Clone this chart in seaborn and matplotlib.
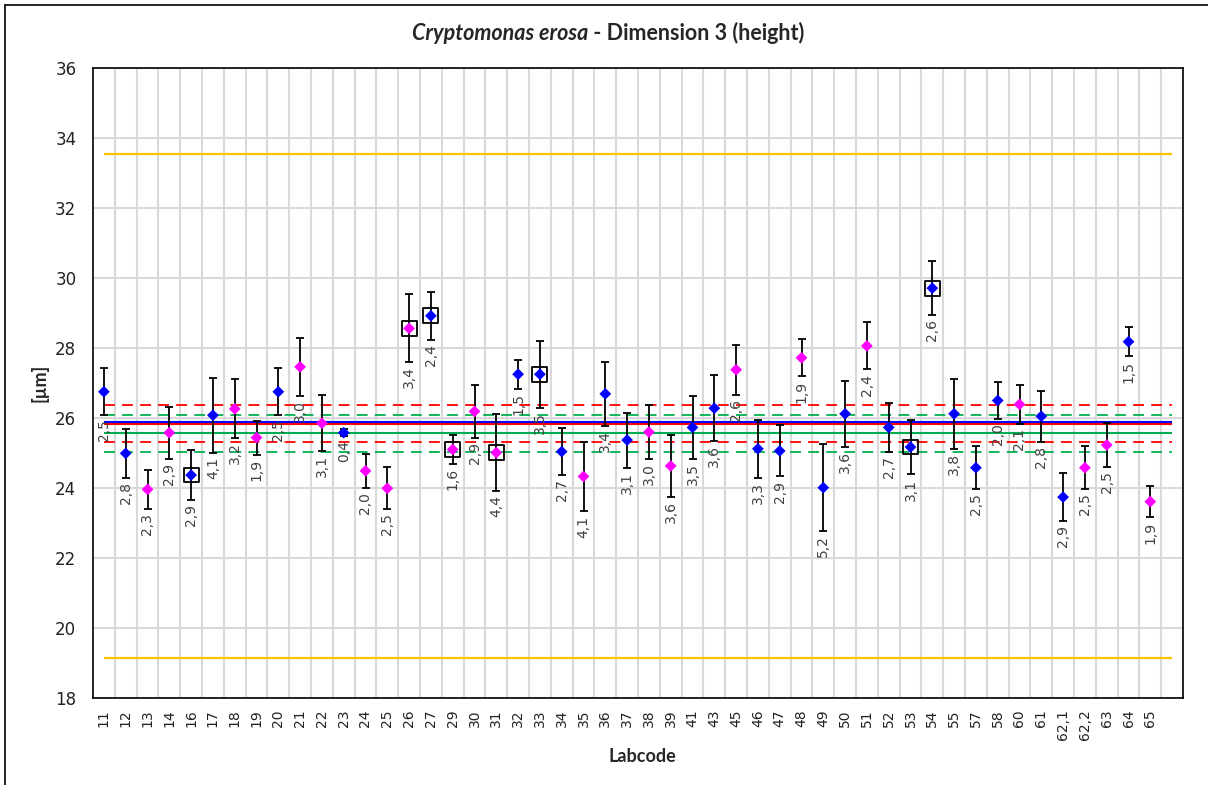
import numpy as np
import pandas as pd
import seaborn as sns
import matplotlib.pyplot as plt
from matplotlib.lines import Line2D

# ---- data ----
labcodes = ['11', '12', '13', '14', '16', '17', '18', '19', '20', '21',
            '22', '23', '24', '25', '26', '27', '29', '30', '31', '32',
            '33', '34', '35', '36', '37', '38', '39', '41', '43', '45',
            '46', '47', '48', '49', '50', '51', '52', '53', '54', '55',
            '57', '58', '60', '61', '62,1', '62,2', '63', '64', '65']
means = [26.75, 24.99, 23.96, 25.58, 24.37, 26.08, 26.26, 25.44, 26.75, 27.46,
         25.85, 25.58, 24.49, 23.99, 28.56, 28.92, 25.10, 26.19, 25.01, 27.25,
         27.25, 25.04, 24.33, 26.69, 25.37, 25.60, 24.63, 25.73, 26.28, 27.38,
         25.12, 25.06, 27.72, 24.01, 26.12, 28.06, 25.73, 25.17, 29.71, 26.12,
         24.58, 26.50, 26.39, 26.05, 23.74, 24.58, 25.23, 28.18, 23.61]
cv = [2.5, 2.8, 2.3, 2.9, 2.9, 4.1, 3.2, 1.9, 2.5, 3.0,
      3.1, 0.4, 2.0, 2.5, 3.4, 2.4, 1.6, 2.9, 4.4, 1.5,
      3.5, 2.7, 4.1, 3.4, 3.1, 3.0, 3.6, 3.5, 3.6, 2.6,
      3.3, 2.9, 1.9, 5.2, 3.6, 2.4, 2.7, 3.1, 2.6, 3.8,
      2.5, 2.0, 2.1, 2.8, 2.9, 2.5, 2.5, 1.5, 1.9]
groups = ['A', 'A', 'B', 'B', 'A', 'A', 'B', 'B', 'A', 'B',
          'B', 'A', 'B', 'B', 'B', 'A', 'B', 'B', 'B', 'A',
          'A', 'A', 'B', 'A', 'A', 'B', 'B', 'A', 'A', 'B',
          'A', 'A', 'B', 'A', 'A', 'B', 'A', 'A', 'A', 'A',
          'A', 'A', 'B', 'A', 'A', 'B', 'B', 'A', 'B']
flagged = ['16', '26', '27', '29', '31', '33', '53', '54']

# reference lines
mean_blue = 25.88
mean_red = 25.83
mean_green = 25.56
red_band = [26.38, 25.31]
green_band = [26.10, 25.02]
orange_limits = [33.54, 19.14]

df = pd.DataFrame({'lab': labcodes, 'mean': means, 'cv': cv, 'group': groups})
df['pos'] = np.arange(len(df))
df['err'] = df['mean'] * df['cv'] / 100
n_slots = len(df) + 1  # one empty slot at the end

sns.set_style("white")
plt.rcParams['font.family'] = ['DejaVu Sans']

fig = plt.figure(figsize=(12.08, 7.85), dpi=100)
ax = fig.add_axes([93 / 1208, 1 - 698 / 785, 1090 / 1208, 630 / 785])

# grid
ax.set_xlim(-0.5, n_slots - 0.5)
ax.set_ylim(18, 36)
ax.set_yticks(np.arange(18, 37, 2))
ax.set_xticks(df['pos'])
ax.set_xticklabels(df['lab'], rotation=90, fontsize=10, color='#222222')
ax.set_xticks(np.arange(n_slots) + 0.5, minor=True)
ax.grid(which='minor', axis='x', color='#d9d9d9', lw=1.5)
ax.grid(which='major', axis='y', color='#d9d9d9', lw=1.5)
ax.grid(which='major', axis='x', visible=False)
ax.set_axisbelow(True)
ax.tick_params(axis='both', which='both', length=0)
ax.tick_params(axis='y', labelsize=12, pad=12, colors='#222222')
ax.tick_params(axis='x', pad=8)
for s in ax.spines.values():
    s.set_color('black')
    s.set_linewidth(1.2)

# reference lines
x0, x1 = 0, n_slots - 1
ax.hlines(orange_limits, x0, x1, color='#FFC000', lw=1.6, zorder=2)
ax.hlines(green_band, x0, x1, color='#00B050', lw=1.3, linestyles=(0, (6, 4)), zorder=2)
ax.hlines(red_band, x0, x1, color='#FF0000', lw=1.3, linestyles=(0, (6, 4)), zorder=2)
ax.hlines(mean_green, x0, x1, color='#00B050', lw=1.5, zorder=2)
ax.hlines(mean_red, x0, x1, color='#FF0000', lw=1.5, zorder=2)
ax.hlines(mean_blue, x0, x1, color='#0000FF', lw=1.5, zorder=2)

# error bars + points
ax.errorbar(df['pos'], df['mean'], yerr=df['err'], fmt='none', ecolor='black',
            elinewidth=1.3, capsize=3, capthick=1.3, zorder=3)
sns.scatterplot(data=df, x='pos', y='mean', hue='group',
                palette={'A': '#0000FF', 'B': '#FF00FF'}, marker='D', s=36,
                linewidth=0, legend=False, ax=ax, zorder=5)
fl = df[df['lab'].isin(flagged)]
ax.scatter(fl['pos'], fl['mean'], marker='s', s=115, facecolors='none',
           edgecolors='black', linewidths=1.3, zorder=4)

# cv labels below error bars
for _, r in df.iterrows():
    ax.annotate(f"{r['cv']:.1f}".replace('.', ','), xy=(r['pos'], r['mean'] - r['err']),
                xytext=(0, -3), textcoords='offset points', rotation=90,
                ha='center', va='top', fontsize=10, color='#404040', zorder=6)

ax.set_xlabel('')
ax.set_ylabel('')
fig.text(642 / 1208, 1 - 756 / 785, 'Labcode', ha='center', va='center',
         fontsize=13, fontweight='bold', family=['Lato', 'DejaVu Sans'])
fig.text(40 / 1208, 0.5 * (2 - (68 + 698) / 785), '[µm]', ha='center', va='center',
         rotation=90, fontsize=13, fontweight='bold', family=['Lato', 'DejaVu Sans'])

# title: italic species name + plain bold rest
renderer = fig.canvas.get_renderer()
t_kw = dict(fontsize=15.5, fontweight='bold', family=['Lato', 'DejaVu Sans'], va='center')
ty = 1 - 33 / 785
t1 = fig.text(0, ty, 'Cryptomonas erosa', style='italic', **t_kw)
t2 = fig.text(0, ty, ' - Dimension 3 (height)', **t_kw)
w1 = t1.get_window_extent(renderer).width
w2 = t2.get_window_extent(renderer).width
start = 608 - (w1 + w2) / 2
t1.set_x(start / 1208)
t2.set_x((start + w1) / 1208)

# chart frame (left + top visible)
fig.add_artist(Line2D([4.5 / 1208, 4.5 / 1208], [0, 1 - 4.5 / 785], color='black', lw=1.2))
fig.add_artist(Line2D([4.5 / 1208, 1], [1 - 4.5 / 785, 1 - 4.5 / 785], color='black', lw=1.2))

fig.savefig('out.png', dpi=100)
